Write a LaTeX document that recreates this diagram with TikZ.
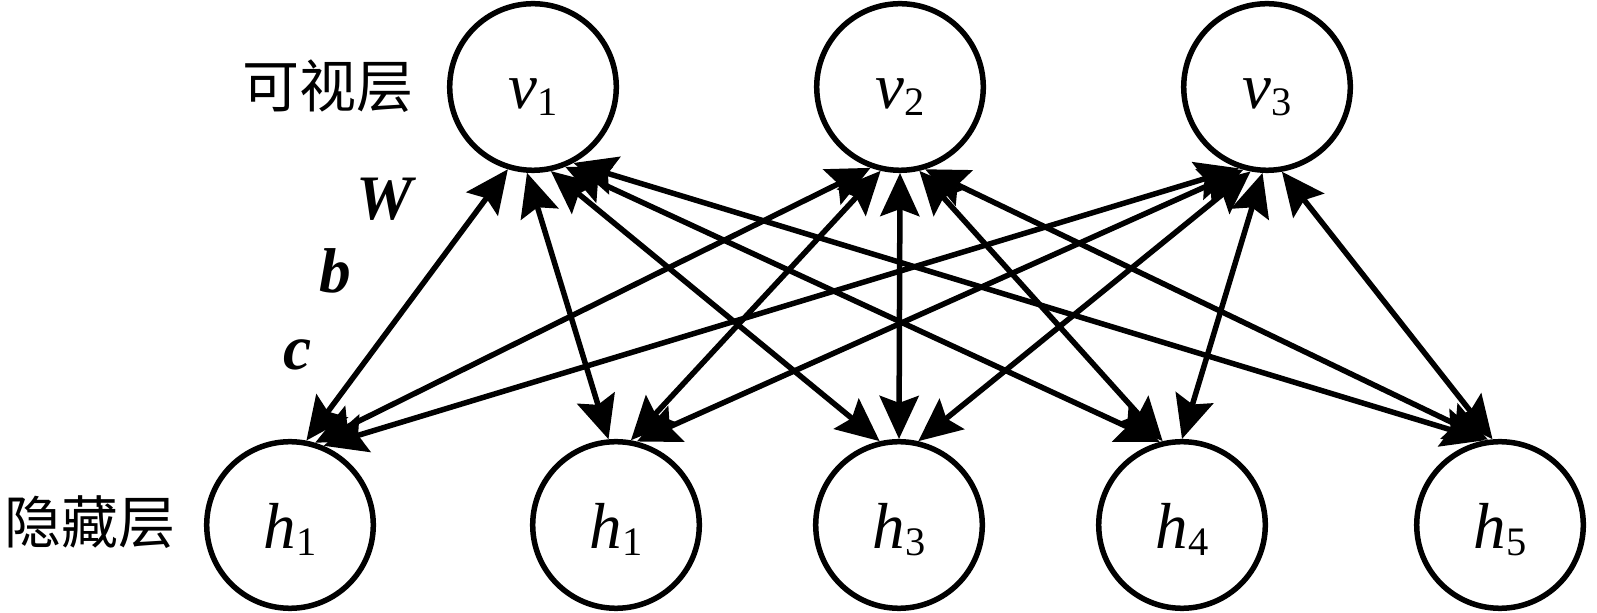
\documentclass[tikz,border=0pt]{standalone}
\usepackage{fontspec}
\setmainfont{Liberation Serif}
\newfontfamily\cjk{Noto Sans CJK SC}
\usetikzlibrary{arrows.meta}
\newcommand{\varlab}[2]{\textit{#1}\raisebox{-0.11em}{\fontsize{11.5}{12}\selectfont #2}}
\begin{document}
\begin{tikzpicture}[x=0.01cm,y=-0.01cm,
  unit/.style={circle,draw,line width=0.055cm,minimum size=1.665cm,inner sep=0pt},
  tip/.tip={Stealth[length=0.43cm,width=0.39cm,inset=0.07cm]},
  link/.style={line width=0.055cm,tip-tip},
  varname/.style={font=\fontsize{18.5}{20}\selectfont,inner sep=0pt,anchor=base},
  layername/.style={font=\cjk\fontsize{16.2}{18}\selectfont,inner sep=0pt,anchor=base},
  param/.style={font=\fontsize{18}{20}\selectfont\bfseries\itshape,inner sep=0pt,anchor=base}]
\useasboundingbox (0,0) rectangle (1597,613);
% visible layer
\node[unit] (v1) at (533,87) {};
\node[unit] (v2) at (900,87) {};
\node[unit] (v3) at (1267,87) {};
% hidden layer
\node[unit] (h1) at (290,525) {};
\node[unit] (h2) at (616,525) {};
\node[unit] (h3) at (899,525) {};
\node[unit] (h4) at (1182,525) {};
\node[unit] (h5) at (1500,525) {};
% labels inside units
\node[varname] (tv1) at ([yshift=-0.21cm]v1.center) {\varlab{v}{1}};
\node[varname] (tv2) at ([yshift=-0.21cm]v2.center) {\varlab{v}{2}};
\node[varname] (tv3) at ([yshift=-0.21cm]v3.center) {\varlab{v}{3}};
\node[varname] (th1) at ([yshift=-0.23cm]h1.center) {\varlab{h}{1}};
\node[varname] (th2) at ([yshift=-0.23cm]h2.center) {\varlab{h}{1}};
\node[varname] (th3) at ([yshift=-0.23cm]h3.center) {\varlab{h}{3}};
\node[varname] (th4) at ([yshift=-0.23cm]h4.center) {\varlab{h}{4}};
\node[varname] (th5) at ([yshift=-0.23cm]h5.center) {\varlab{h}{5}};
% layer names
\node[layername] (vis) at (328,108) {可视层};
\node[layername] (hid) at (90,544) {隐藏层};
% parameters
\node[param] (pW) at (385,220) {W};
\node[param] (pb) at (335,293) {b};
\node[param] (pc) at (298,370) {c};
% connections
\draw[link] (v1.253) -- (h1.79);
\draw[link] (v1.266) -- (h2.95);
\draw[link] (v1.282) -- (h3.103);
\draw[link] (v1.292) -- (h4.105);
\draw[link] (v1.298) -- (h5.100);
\draw[link] (v2.250) -- (h1.73);
\draw[link] (v2.257) -- (h2.80);
\draw[link] (v2.270) -- (h3.90);
\draw[link] (v2.283) -- (h4.103);
\draw[link] (v2.287) -- (h5.98);
\draw[link] (v3.251) -- (h1.67);
\draw[link] (v3.254) -- (h2.76);
\draw[link] (v3.259) -- (h3.77);
\draw[link] (v3.267) -- (h4.90);
\draw[link] (v3.280) -- (h5.95);
\end{tikzpicture}
\end{document}
